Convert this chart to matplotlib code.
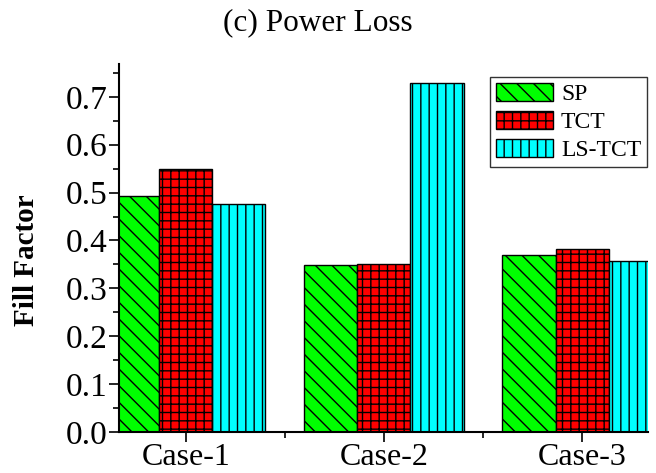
import numpy as np
import matplotlib
matplotlib.use("Agg")
import matplotlib.pyplot as plt
from matplotlib.ticker import MultipleLocator, FixedLocator

plt.rcParams['font.family'] = ['Liberation Serif', 'DejaVu Serif']
plt.rcParams['hatch.linewidth'] = 1.0

# fill factor per case for each configuration
cases = ["Case-1", "Case-2", "Case-3"]
sp = [0.492, 0.349, 0.370]
tct = [0.549, 0.350, 0.383]
ls_tct = [0.476, 0.729, 0.356]

series = [("SP", sp, "#00ff00", "\\\\"),
          ("TCT", tct, "#ff0000", "++"),
          ("LS-TCT", ls_tct, "#00ffff", "||")]

fig = plt.figure(figsize=(6.56, 4.73), dpi=100)
ax = fig.add_axes([0.181, 0.087, 0.807, 0.778])

x = np.arange(1, len(cases) + 1)
w = 0.268
for i, (name, vals, col, hat) in enumerate(series):
    ax.bar(x + (i - 1) * w, vals, w, color=col, edgecolor="black",
           linewidth=1.0, hatch=hat, label=name)

ax.set_xlim(0.662, 3.333)
ax.set_ylim(0, 0.769)
ax.set_xticks(x)
ax.set_xticklabels(cases, fontsize=23)
ax.xaxis.set_minor_locator(FixedLocator([1.5, 2.5]))
yt = np.arange(0, 0.75, 0.1)
ax.set_yticks(yt)
ax.set_yticklabels([f"{v:.1f}" for v in yt], fontsize=24)
ax.yaxis.set_minor_locator(MultipleLocator(0.05))
ax.tick_params(which="major", direction="out", length=7, width=1.2, pad=1)
ax.tick_params(which="minor", direction="out", length=4, width=1.2)

for s in ["top", "right"]:
    ax.spines[s].set_visible(False)
for s in ["left", "bottom"]:
    ax.spines[s].set_linewidth(1.5)

fig.text(27 / 656, 1 - 260 / 473, "Fill Factor", fontsize=21, fontweight="bold",
         rotation=90, ha="center", va="center")
fig.text(0.484, 0.953, "(c) Power Loss", fontsize=22.5, ha="center", va="center")

leg = ax.legend(loc="upper right", bbox_to_anchor=(0.998, 0.965), fontsize=17,
                frameon=True, fancybox=False, edgecolor="black",
                handlelength=2.4, handleheight=0.8, handletextpad=0.35,
                labelspacing=0.25, borderpad=0.25, borderaxespad=0)
leg.get_frame().set_linewidth(1.0)

fig.savefig("out.png", dpi=100)
